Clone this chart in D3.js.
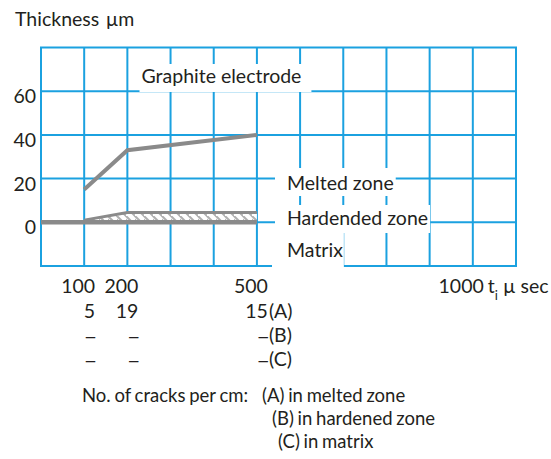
<!DOCTYPE html>
<html>
<head>
<meta charset="utf-8">
<script src="https://cdn.jsdelivr.net/npm/d3@7"></script>
<style>
  body { margin: 0; background: #fff; }
  text { font-family: Lato, "Open Sans", sans-serif; fill: #231f20; }
  .dash { font-family: "Liberation Sans", sans-serif; }
</style>
</head>
<body>
<div id="container"></div>
<script>
var w = 551
var h = 459
var fs = 19.5

// data
var yTicks = [0, 20, 40, 60]
var timeTicks = [100, 200, 500, 1000]
var meltedT = [100, 200, 500]
var meltedThk = [15, 33, 40]
var hardT = [100, 200, 500]
var hardThk = [1, 4.5, 4.5]
var matrixT = [0, 500]
var matrixThk = [0, 0]
var crackT = [100, 200, 500]
var cracksA = ["5", "19", "15"]
var cracksB = ["–", "–", "–"]
var cracksC = ["–", "–", "–"]
var crackTags = ["(A)", "(B)", "(C)"]

var svg = d3.select("#container").append("svg")
    .attr("width", w)
    .attr("height", h)

var x = d3.scaleLinear().domain([0, 1100]).range([41, 516])
var y = d3.scaleLinear().domain([-20, 80]).range([266, 47.5])

var grid = "#1ba1e0"
var gray = "#8a8a8a"

// hatch for the hardened zone
var defs = svg.append("defs")
var pat = defs.append("pattern")
    .attr("id", "hatch")
    .attr("patternUnits", "userSpaceOnUse")
    .attr("width", 9).attr("height", 9)
pat.append("rect").attr("width", 9).attr("height", 9).attr("fill", "#fff")
pat.append("path")
    .attr("d", "M-2,2 L2,6 M0,0 L9,9 M7,-2 L11,2")
    .attr("stroke", "#b0b0b0")
    .attr("stroke-width", 2)

// grid
var g = svg.append("g")
g.selectAll(".vline")
    .data(d3.range(0, 1101, 100))
    .enter().append("line")
    .attr("x1", d => x(d)).attr("x2", d => x(d))
    .attr("y1", y(80)).attr("y2", y(-20))
    .attr("stroke", grid).attr("stroke-width", 2)
g.selectAll(".hline")
    .data(d3.range(-20, 81, 20))
    .enter().append("line")
    .attr("x1", x(0) - 1).attr("x2", x(1100) + 1)
    .attr("y1", d => y(d)).attr("y2", d => y(d))
    .attr("stroke", grid).attr("stroke-width", 2)

// hardened zone band
var area = d3.area()
    .x((d, i) => x(hardT[i]))
    .y0(y(0))
    .y1((d, i) => y(hardThk[i]))
svg.append("path")
    .attr("d", area(hardThk))
    .attr("fill", "url(#hatch)")

var line = d3.line()
svg.append("path")
    .attr("d", line(hardT.map((t, i) => [x(t), y(hardThk[i])])))
    .attr("fill", "none").attr("stroke", gray).attr("stroke-width", 3)

svg.append("path")
    .attr("d", line(matrixT.map((t, i) => [x(t), y(matrixThk[i])])))
    .attr("fill", "none").attr("stroke", gray).attr("stroke-width", 4.5)

svg.append("path")
    .attr("d", line(meltedT.map((t, i) => [x(t), y(meltedThk[i])])))
    .attr("fill", "none").attr("stroke", gray).attr("stroke-width", 4)

// boxed labels over the grid
var labels = [
    { text: "Graphite electrode", x: 141.5, y: 83, top: 64, bottom: 92, padL: 2, padR: 10 },
    { text: "Melted zone", x: 287, y: 190, top: 168, bottom: 196, padL: 12, padR: 2 },
    { text: "Hardended zone", x: 287, y: 225, top: 205, bottom: 233, padL: 12, padR: 2 },
    { text: "Matrix", x: 287, y: 257, top: 233, bottom: 268, padL: 15, padR: 1 }
]
labels.forEach(function (d) {
    var box = svg.append("rect").attr("fill", "#fff")
    var t = svg.append("text")
        .attr("x", d.x).attr("y", d.y)
        .attr("font-size", fs)
        .text(d.text)
    var len = t.node().getComputedTextLength()
    box.attr("x", d.x - d.padL).attr("y", d.top)
        .attr("width", len + d.padL + d.padR)
        .attr("height", d.bottom - d.top)
})

// y axis labels
svg.append("text")
    .attr("x", 15).attr("y", 26)
    .attr("font-size", fs)
    .attr("word-spacing", 1.5)
    .text("Thickness µm")
svg.selectAll(".ylab")
    .data(yTicks)
    .enter().append("text")
    .attr("x", 36).attr("y", d => y(d) + 12)
    .attr("text-anchor", "end")
    .attr("font-size", fs)
    .text(d => d)

// x labels and crack counts
var rowY = [293, 318, 342, 366]
svg.selectAll(".xlab")
    .data(timeTicks)
    .enter().append("text")
    .attr("x", d => x(d) + 11).attr("y", rowY[0])
    .attr("text-anchor", "end")
    .attr("font-size", fs)
    .text(d => d)

var unit = svg.append("text")
    .attr("x", x(1000) + 15).attr("y", rowY[0])
    .attr("font-size", fs)
unit.append("tspan").text("t")
unit.append("tspan").attr("dy", 7).attr("font-size", 13).text("i")
unit.append("tspan").attr("dy", -7).text(" µ sec")

;[cracksA, cracksB, cracksC].forEach(function (row, r) {
    svg.selectAll(".crack" + r)
        .data(row)
        .enter().append("text")
        .attr("class", d => d === "–" ? "dash" : null)
        .attr("x", (d, i) => x(crackT[i]) + 11).attr("y", rowY[r + 1])
        .attr("text-anchor", "end")
        .attr("font-size", d => d === "–" ? 17 : fs)
        .text(d => d)
    svg.append("text")
        .attr("x", x(crackT[crackT.length - 1]) + 12).attr("y", rowY[r + 1])
        .attr("font-size", fs)
        .text(crackTags[r])
})

// footnote
var notes = [
    { text: "No. of cracks per cm:", x: 82, y: 402 },
    { text: "(A) in melted zone", x: 262, y: 402 },
    { text: "(B) in hardened zone", x: 272, y: 425 },
    { text: "(C) in matrix", x: 278, y: 448 }
]
svg.selectAll(".note")
    .data(notes)
    .enter().append("text")
    .attr("x", d => d.x).attr("y", d => d.y)
    .attr("font-size", 18.5)
    .attr("word-spacing", -1)
    .text(d => d.text)
</script>
</body>
</html>
